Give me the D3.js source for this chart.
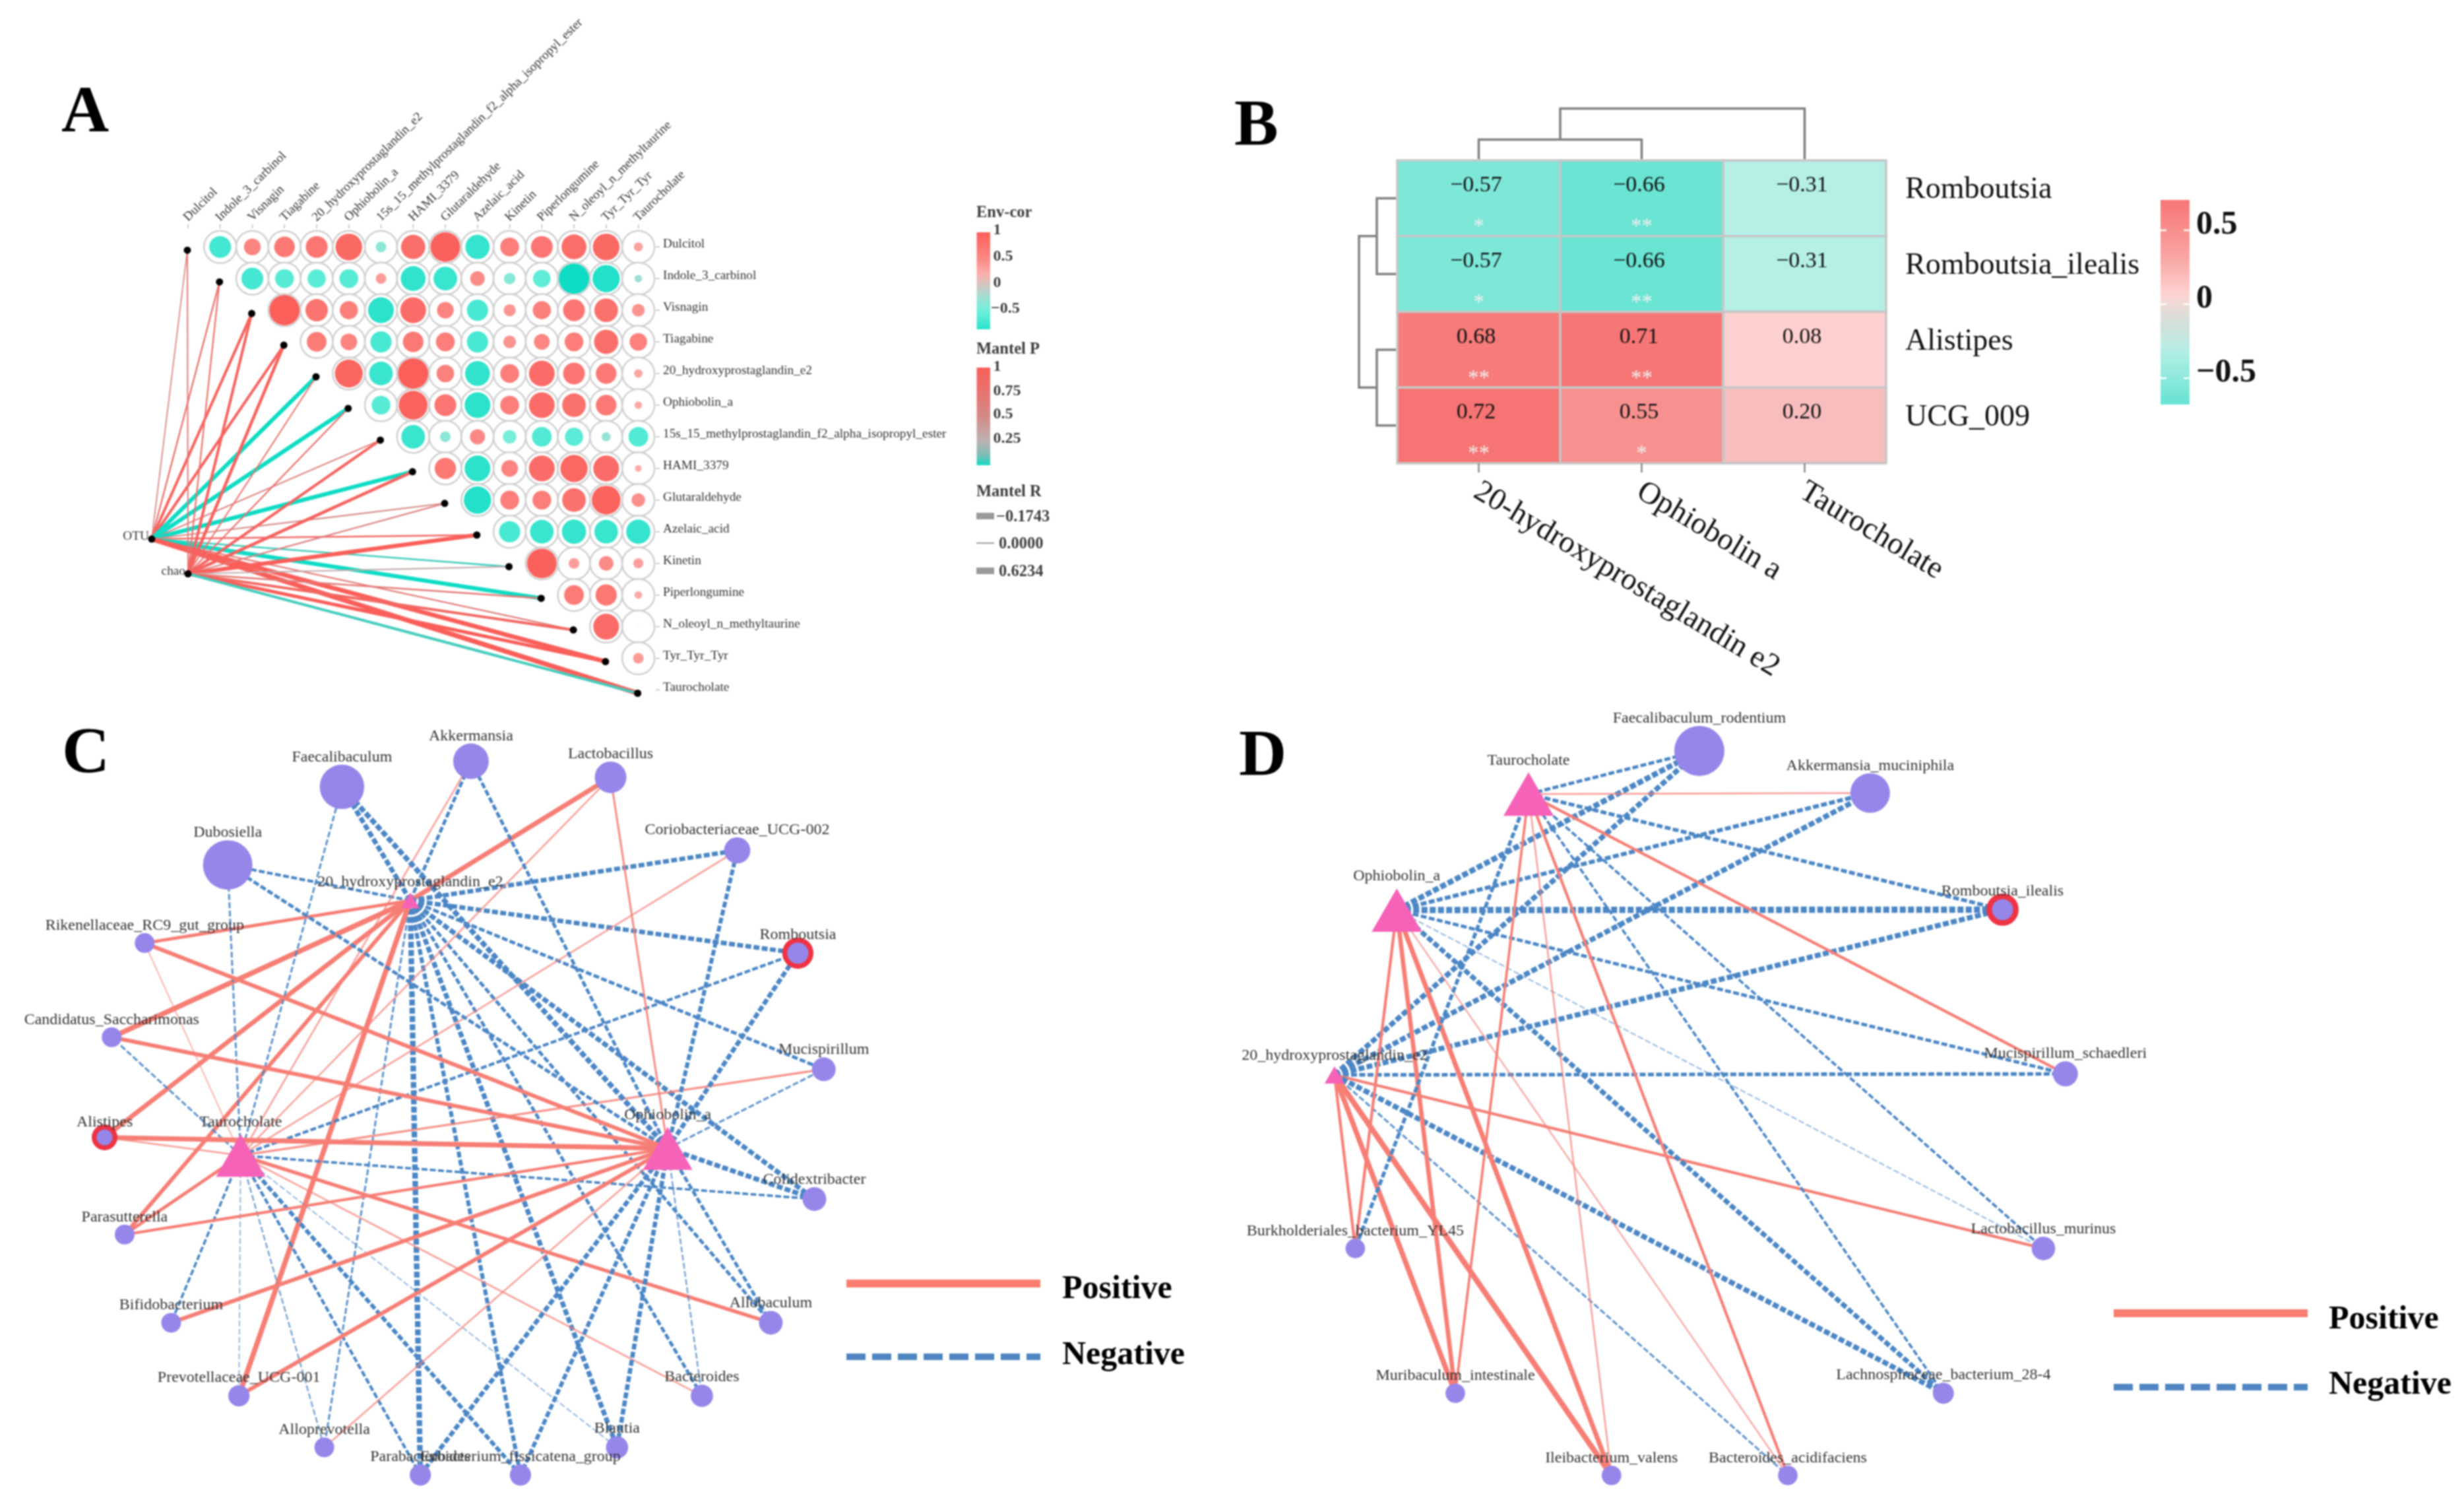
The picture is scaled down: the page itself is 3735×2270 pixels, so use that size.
<!DOCTYPE html>
<html><head><meta charset="utf-8">
<script src="https://cdn.jsdelivr.net/npm/d3@7"></script>
<style>html,body{margin:0;padding:0;background:#fff}svg{display:block;filter:blur(0.8px)}text{font-family:"Liberation Serif",serif}</style>
</head><body><svg id="c" width="3735" height="2270"></svg>
<script>
// ---------- Panel A data ----------
const metabolites=["Dulcitol","Indole_3_carbinol","Visnagin","Tiagabine","20_hydroxyprostaglandin_e2","Ophiobolin_a","15s_15_methylprostaglandin_f2_alpha_isopropyl_ester","HAMI_3379","Glutaraldehyde","Azelaic_acid","Kinetin","Piperlongumine","N_oleoyl_n_methyltaurine","Tyr_Tyr_Tyr","Taurocholate"];
const envCor=[
[-0.72,0.55,0.68,0.72,0.88,-0.35,0.8,0.98,-0.8,0.62,0.72,0.82,0.88,0.3],
[-0.72,-0.62,-0.6,-0.62,0.35,-0.82,-0.78,0.48,-0.38,-0.58,-1,-0.9,-0.25],
[1,0.74,0.6,-0.85,0.85,0.55,-0.7,0.4,0.6,0.72,0.78,0.42],
[0.65,0.55,-0.7,0.68,0.62,-0.7,0.42,0.52,0.62,0.8,0.58],
[0.92,-0.78,1,0.58,-0.82,0.62,0.85,0.72,0.68,0.28],
[-0.62,0.95,0.72,-0.85,0.62,0.85,0.78,0.68,0.25],
[-0.78,-0.35,0.5,-0.45,-0.65,-0.6,-0.3,-0.65],
[0.7,-0.85,0.55,0.85,0.9,0.85,0.22],
[-0.9,0.62,0.62,0.78,0.95,0.45],
[-0.7,-0.78,-0.8,-0.78,-0.8],
[0.98,0.35,0.48,0.33],
[0.65,0.7,0.25],
[0.85,0.03],
[0.35]];
const mantelHubs=["OTU","chao"];
const mantelHubCol=[-1.13,0], mantelHubRow=[9.23,10.33];
const mantelR=[
[0.08,0.14,0.3,0.3,0.5,0.5,0.1,0.5,0.1,0.15,0.15,0.5,0.12,0.55,0.6],
[0.1,0.12,0.3,0.35,0.1,0.12,0.3,0.35,0.12,0.5,0.1,0.15,0.3,0.4,0.3]];
const mantelP=[
[0.55,0.75,0.95,0.95,0,0,0.6,0,0.5,0.9,0.05,0,0.7,1,1],
[0.7,0.8,0.95,0.95,0.8,0.8,0.95,0.95,0.6,1,0.3,0.7,0.9,1,0.05]];
const envTicks=[1,0.5,0,-0.5], pTicks=[1,0.75,0.5,0.25];
const rLegend=["\u22120.1743","0.0000","0.6234"], rLegendVal=[-0.1743,0,0.6234];
// ---------- Panel B data ----------
const heatRows=["Romboutsia","Romboutsia_ilealis","Alistipes","UCG_009"];
const heatCols=["20-hydroxyprostaglandin e2","Ophiobolin a","Taurocholate"];
const heatVals=[[-0.57,-0.66,-0.31],[-0.57,-0.66,-0.31],[0.68,0.71,0.08],[0.72,0.55,0.20]];
const heatStars=[["*","**",""],["*","**",""],["**","**",""],["**","*",""]];
const heatTicks=[0.5,0,-0.5];
// ---------- Panel C data ----------
const cNodes=["Dubosiella","Faecalibaculum","Akkermansia","Lactobacillus","Coriobacteriaceae_UCG-002","Romboutsia","Mucispirillum","Colidextribacter","Allobaculum","Bacteroides","Blautia","Eubacterium_fissicatena_group","Parabacteroides","Alloprevotella","Prevotellaceae_UCG-001","Bifidobacterium","Parasutterella","Alistipes","Candidatus_Saccharimonas","Rikenellaceae_RC9_gut_group"];
const cLayoutX=[353,547,766,1003,1218,1321,1365,1349,1275,1158,1014,850,680,517,372,257,178,144,156,212];
const cLayoutY=[304,148,97,129,275,480,712,971,1218,1364,1467,1522,1522,1467,1364,1218,1042,848,648,460];
const cAbundance=[1,0.9,0.72,0.64,0.53,0.43,0.48,0.48,0.48,0.45,0.45,0.43,0.43,0.4,0.43,0.4,0.4,0.32,0.4,0.4];
const cMarked=["Romboutsia","Alistipes"];
const cHubs=["20_hydroxyprostaglandin_e2","Taurocholate","Ophiobolin_a"];
const cHubX=[663,375,1100], cHubY=[375,884,870], cHubSize=[0.37,1,1];
const cCorr=[
[-0.45,-0.7,-0.5,0.7,-0.65,-0.66,-0.5,-0.7,-0.5,-0.5,-0.7,-0.6,-0.8,-0.35,0.75,0,0.6,0.68,0.75,0.5],
[-0.35,-0.35,0.3,0.3,0.3,-0.45,0.35,-0.4,0.55,0.3,-0.25,-0.6,-0.45,-0.3,-0.25,-0.4,0.5,0.3,-0.35,0.25],
[-0.5,-0.75,-0.5,0.35,-0.6,-0.66,-0.35,-0.7,-0.5,-0.3,-0.65,-0.6,-0.65,0.3,0.6,0.6,0.45,0.71,0.6,0.6]];
// ---------- Panel D data ----------
const dNodes=["Faecalibaculum_rodentium","Akkermansia_muciniphila","Romboutsia_ilealis","Mucispirillum_schaedleri","Lactobacillus_murinus","Lachnospiraceae_bacterium_28-4","Bacteroides_acidifaciens","Ileibacterium_valens","Muribaculum_intestinale","Burkholderiales_bacterium_YL45"];
const dLayoutX=[785,1065,1282,1385,1349,1185,930,641,385,221];
const dLayoutY=[113,195,422,742,1082,1364,1524,1524,1364,1082];
const dAbundance=[1,0.79,0.42,0.5,0.47,0.42,0.39,0.39,0.39,0.39];
const dMarked=["Romboutsia_ilealis"];
const dHubs=["20_hydroxyprostaglandin_e2","Ophiobolin_a","Taurocholate"];
const dHubX=[187,289,505], dHubY=[744,423,197], dHubSize=[0.4,1,1];
const dCorr=[
[-0.75,-0.75,-0.75,-0.55,0.45,-0.75,-0.35,0.8,0.75,0.45],
[-0.8,-0.6,-0.9,-0.5,-0.25,-0.7,0.28,0.7,0.65,0.45],
[-0.5,0.3,-0.55,0.45,-0.4,-0.4,0.45,0.3,0.4,-0.55]];
const legendKeys=["Positive","Negative"];

const svg=d3.select("#c");
const POS="#f67e75",NEG="#4b86c5",PURPLE="#9686ea",PINK="#f562b8",RING="#ee3344";
const panelLetters=[["A",93,199],["B",1871,219],["C",94,1170],["D",1878,1174]];
svg.selectAll("text.letter").data(panelLetters).join("text").attr("class","letter")
 .attr("x",d=>d[1]).attr("y",d=>d[2]).attr("font-size",100).attr("font-weight","bold").text(d=>d[0]);

// ---------- Panel A ----------
const A=svg.append("g");
const xA=d3.scaleLinear().domain([0,14]).range([285,967.6]);
const yA=d3.scaleLinear().domain([0,14]).range([374.2,1045.5]);
const corColor=d3.scaleLinear().domain([-1,-0.5,-0.2,0.2,0.5,1]).range(["#0fdcc4","#6ef0dc","#a9dcd2","#fcb0ae","#fb8884","#fb5f5a"]);
const pColor=d3.scaleLinear().domain([0,0.1,0.25,0.5,1]).range(["#0fdcc4","#7bbdb5","#bdb2b2","#d48a88","#fa5f5a"]);
const rWidth=d3.scaleLinear().domain([0,0.62]).range([1,7.5]);
mantelHubs.forEach((h,hi)=>{
 A.append("g").selectAll("line").data(metabolites).join("line")
  .attr("x1",xA(mantelHubCol[hi])).attr("y1",yA(mantelHubRow[hi]))
  .attr("x2",(d,i)=>xA(i)-1).attr("y2",(d,i)=>yA(i)+5)
  .attr("stroke",(d,i)=>pColor(mantelP[hi][i])).attr("stroke-width",(d,i)=>rWidth(mantelR[hi][i]));
});
const cells=[];envCor.forEach((row,ri)=>row.forEach((v,k)=>cells.push({r:ri,c:ri+1+k,v})));
A.append("g").selectAll("circle").data(cells).join("circle").attr("cx",d=>xA(d.c)).attr("cy",d=>yA(d.r)).attr("r",24.5)
 .attr("fill","#fff").attr("stroke","#cfcfcf").attr("stroke-width",2.5);
const rCor=d3.scaleLinear().domain([0,1]).range([0,23]);
A.append("g").selectAll("circle").data(cells).join("circle").attr("cx",d=>xA(d.c)).attr("cy",d=>yA(d.r)).attr("r",d=>rCor(Math.abs(d.v)))
 .attr("fill",d=>corColor(d.v));
A.append("g").selectAll("circle").data(metabolites).join("circle").attr("cx",(d,i)=>xA(i)-1).attr("cy",(d,i)=>yA(i)+5).attr("r",5.5).attr("fill","#000");
A.append("g").selectAll("circle").data(mantelHubs).join("circle").attr("cx",(d,i)=>xA(mantelHubCol[i])).attr("cy",(d,i)=>yA(mantelHubRow[i])).attr("r",5.5).attr("fill","#000");
A.append("g").selectAll("text").data(mantelHubs).join("text").attr("text-anchor","end")
 .attr("x",(d,i)=>xA(mantelHubCol[i])-4).attr("y",(d,i)=>yA(mantelHubRow[i])+1).attr("font-size",19.3).attr("fill","#333").text(d=>d);
A.append("g").selectAll("text").data(metabolites).join("text").attr("font-size",19.3).attr("fill","#333")
 .attr("transform",(d,i)=>`translate(${xA(i)},336) rotate(-44.5)`).text(d=>d);
A.append("g").selectAll("line").data(metabolites).join("line").attr("x1",(d,i)=>xA(i)).attr("x2",(d,i)=>xA(i)).attr("y1",340).attr("y2",346).attr("stroke","#bbb").attr("stroke-width",1.5);
A.append("g").selectAll("text").data(metabolites).join("text").attr("font-size",19.3).attr("fill","#333")
 .attr("x",1005).attr("y",(d,i)=>yA(i)+1).text(d=>d);
A.append("g").selectAll("line").data(metabolites).join("line").attr("x1",994).attr("x2",1000).attr("y1",(d,i)=>yA(i)).attr("y2",(d,i)=>yA(i)).attr("stroke","#bbb").attr("stroke-width",1.5);

// gradient helper
const defs=svg.append("defs");
function grad(id,scale,dMin,dMax){
 const g=defs.append("linearGradient").attr("id",id).attr("x1",0).attr("x2",0).attr("y1",0).attr("y2",1);
 g.selectAll("stop").data(d3.range(0,1.001,0.05)).join("stop").attr("offset",d=>d).attr("stop-color",d=>scale(dMax+(dMin-dMax)*d));
}
const L=svg.append("g").attr("fill","#3d3d3d");
grad("gEnv",corColor,-0.85,1);
grad("gP",pColor,0,1);
L.append("text").attr("x",1480).attr("y",329).attr("font-size",24.5).attr("font-weight","bold").text("Env-cor");
L.append("rect").attr("x",1480.5).attr("y",352).attr("width",20.5).attr("height",147).attr("fill","url(#gEnv)");
const yEnvL=[355,395,435,474];
L.append("g").selectAll("text").data(envTicks).join("text").attr("x",(d,i)=>i==3?1502:1505.5).attr("y",(d,i)=>yEnvL[i]).attr("font-size",24).attr("font-weight","bold").text(d=>String(d).replace("-","\u2212"));
L.append("text").attr("x",1480).attr("y",536).attr("font-size",24.5).attr("font-weight","bold").text("Mantel P");
L.append("rect").attr("x",1480.5).attr("y",557).attr("width",20.5).attr("height",148).attr("fill","url(#gP)");
const yPL=[562,599,634,671];
L.append("g").selectAll("text").data(pTicks).join("text").attr("x",1505.5).attr("y",(d,i)=>yPL[i]).attr("font-size",24).attr("font-weight","bold").text(d=>d);
L.append("text").attr("x",1480).attr("y",752).attr("font-size",24.5).attr("font-weight","bold").text("Mantel R");
const yRL=[782,823,865];
L.append("g").selectAll("line").data(rLegendVal).join("line").attr("x1",1480).attr("x2",1507).attr("y1",(d,i)=>yRL[i]).attr("y2",(d,i)=>yRL[i]).attr("stroke","#9a9a9a").attr("stroke-width",d=>d==0?2:10);
L.append("g").selectAll("text").data(rLegend).join("text").attr("x",(d,i)=>i==0?1510:1514).attr("y",(d,i)=>yRL[i]+8).attr("font-size",24.5).attr("font-weight","bold").text(d=>d);

// ---------- Panel B ----------
const B=svg.append("g");
const xB=d3.scaleBand().domain(heatCols).range([2118,2859]);
const yB=d3.scaleBand().domain(heatRows).range([243,702]);
const heatColor=d3.scaleLinear().domain([-0.68,-0.31,-0.08,0,0.08,0.2,0.55,0.72]).range(["#66e3d2","#b5efe6","#dcdcd6","#f6dcd8","#fed0cf","#f8bdbd","#f79190","#f67473"]);
const hc=[];heatRows.forEach((r,i)=>heatCols.forEach((c,j)=>hc.push({r,c,v:heatVals[i][j],s:heatStars[i][j]})));
B.append("g").selectAll("rect").data(hc).join("rect").attr("x",d=>xB(d.c)).attr("y",d=>yB(d.r)).attr("width",xB.bandwidth()).attr("height",yB.bandwidth())
 .attr("fill",d=>heatColor(d.v)).attr("stroke","#c6c6c6").attr("stroke-width",3.5);
const fmt=v=>(v<0?"\u2212":"")+Math.abs(v).toFixed(2);
B.append("g").selectAll("text").data(hc).join("text").attr("text-anchor","middle").attr("font-size",34).attr("fill","#111")
 .attr("x",d=>xB(d.c)+xB.bandwidth()/2-4).attr("y",d=>yB(d.r)+47).text(d=>fmt(d.v));
B.append("g").selectAll("text").data(hc).join("text").attr("text-anchor","middle").attr("font-size",33).attr("fill","#eef0ee")
 .attr("x",d=>xB(d.c)+xB.bandwidth()/2).attr("y",d=>yB(d.r)+110).text(d=>d.s);
B.append("g").selectAll("text").data(heatRows).join("text").attr("x",2888).attr("y",d=>yB(d)+yB.bandwidth()/2).attr("font-size",46).attr("fill","#111").text(d=>d);
B.append("g").selectAll("line").data(heatCols).join("line").attr("x1",d=>xB(d)+xB.bandwidth()/2).attr("x2",d=>xB(d)+xB.bandwidth()/2).attr("y1",702).attr("y2",716).attr("stroke","#888").attr("stroke-width",2.5);
B.append("g").selectAll("text").data(heatCols).join("text").attr("font-size",47).attr("fill","#111")
 .attr("transform",d=>`translate(${xB(d)+xB.bandwidth()/2-10},752) rotate(31)`).text(d=>d);
// dendrograms
const cx=i=>xB(heatCols[i])+xB.bandwidth()/2, cy=i=>yB(heatRows[i])+yB.bandwidth()/2;
const dendroPath=[
 `M${cx(0)},241V211.5H${cx(1)}V241`,
 `M${(cx(0)+cx(1))/2},211.5V164.5H${cx(2)}V241`,
 `M2116,${cy(0)}H2087V${cy(1)}H2116`,
 `M2116,${cy(2)}H2087V${cy(3)}H2116`,
 `M2087,${(cy(0)+cy(1))/2}H2060V${(cy(2)+cy(3))/2}H2087`];
B.append("g").selectAll("path").data(dendroPath).join("path").attr("d",d=>d).attr("fill","none").attr("stroke","#808080").attr("stroke-width",3.5);
// colour bar
const yCb=d3.scaleLinear().domain([0.5,0,-0.5]).range([349,461,573]);
const heatBar=d3.scaleLinear().domain([-0.68,-0.31,-0.08,0,0.08,0.3,0.72]).range(["#66e3d2","#b5efe6","#dcdcd6","#f0dcd8","#fed0cf","#f8a8a6","#f67473"]);
grad("gH",heatBar,yCb.invert(613),yCb.invert(303));
B.append("rect").attr("x",3275).attr("y",303).attr("width",44).attr("height",310).attr("fill","url(#gH)");
B.append("g").selectAll("path").data(heatTicks).join("path").attr("d",d=>`M3275,${yCb(d)}h9M3310,${yCb(d)}h9`).attr("stroke","#fff").attr("stroke-width",2.5);
B.append("g").selectAll("text").data(heatTicks).join("text").attr("x",3329).attr("y",d=>yCb(d)+5).attr("font-size",50).attr("font-weight","bold").attr("fill","#111").text(d=>String(d).replace("-","\u2212"));

// ---------- Networks ----------
function network(box,nodes,lx,ly,ab,marked,hubs,hx,hy,hs,corr,rMax,triSide,ringW){
 const X=d3.scaleLinear().domain([0,1568]).range([box[0],box[1]]);
 const Y=d3.scaleLinear().domain([0,1568]).range([box[2],box[3]]);
 const R=d3.scaleLinear().domain([0,1]).range([0,rMax]);
 const W=d3.scaleLinear().domain([0.25,0.9]).range([2,9.5]);
 const Op=d3.scaleLinear().domain([0.25,0.4]).range([0.6,1]).clamp(true);
 const edges=[];hubs.forEach((h,hi)=>nodes.forEach((n,ni)=>{const v=corr[hi][ni];if(v)edges.push({hi,ni,v})}));
 const g=svg.append("g");
 g.append("g").selectAll("line").data(edges).join("line")
  .attr("x1",d=>X(hx[d.hi])).attr("y1",d=>Y(hy[d.hi])).attr("x2",d=>X(lx[d.ni])).attr("y2",d=>Y(ly[d.ni]))
  .attr("stroke",d=>d.v>0?POS:NEG).attr("stroke-opacity",d=>Op(Math.abs(d.v))).attr("stroke-width",d=>W(Math.abs(d.v)))
  .attr("stroke-dasharray",d=>d.v>0?null:"9 3.5");
 g.append("g").selectAll("circle").data(nodes).join("circle").attr("cx",(d,i)=>X(lx[i])).attr("cy",(d,i)=>Y(ly[i])).attr("r",(d,i)=>R(ab[i])).attr("fill",PURPLE);
 g.append("g").selectAll("circle").data(marked).join("circle").attr("cx",d=>X(lx[nodes.indexOf(d)])).attr("cy",d=>Y(ly[nodes.indexOf(d)]))
  .attr("r",d=>R(ab[nodes.indexOf(d)])+ringW/2).attr("fill",PURPLE).attr("stroke",RING).attr("stroke-width",ringW);
 const tri=d3.symbol().type(d3.symbolTriangle);
 g.append("g").selectAll("path").data(hubs).join("path").attr("d",(d,i)=>{const s=hs[i]*triSide;return tri.size(Math.sqrt(3)/4*s*s)()})
  .attr("transform",(d,i)=>`translate(${X(hx[i])},${Y(hy[i])+hs[i]*triSide*0.866/6})`).attr("fill",PINK);
 g.append("g").selectAll("text").data(nodes).join("text").attr("text-anchor","middle").attr("font-size",24).attr("fill","#333")
  .attr("x",(d,i)=>X(lx[i])).attr("y",(d,i)=>Y(ly[i])-R(ab[i])-13+8).text(d=>d);
 g.append("g").selectAll("text").data(hubs).join("text").attr("text-anchor","middle").attr("font-size",24).attr("fill","#333")
  .attr("x",(d,i)=>X(hx[i])).attr("y",(d,i)=>Y(hy[i])-(17+0.47*hs[i]*triSide)+8).text(d=>d);
}
network([30,1430,1080,2270],cNodes,cLayoutX,cLayoutY,cAbundance,cMarked,cHubs,cHubX,cHubY,cHubSize,cCorr,37.5,75,7.5);
network([1850,3300,1050,2270],dNodes,dLayoutX,dLayoutY,dAbundance,dMarked,dHubs,dHubX,dHubY,dHubSize,dCorr,38,76,8.5);

// ---------- network legends ----------
function keyLegend(x1,x2,y,by,tx){
 const g=svg.append("g");
 g.selectAll("line").data(legendKeys).join("line").attr("x1",x1).attr("x2",x2).attr("y1",(d,i)=>y[i]).attr("y2",(d,i)=>y[i])
  .attr("stroke",(d,i)=>i?"#4f86c2":"#f87d70").attr("stroke-width",(d,i)=>i?10:12).attr("stroke-dasharray",(d,i)=>i?"29 10":null);
 g.selectAll("text").data(legendKeys).join("text").attr("x",tx).attr("y",(d,i)=>by[i]).attr("font-size",50).attr("font-weight","bold").attr("fill","#000").text(d=>d);
}
keyLegend(1283,1577,[1945,2056],[1967,2067],1610);
keyLegend(3204,3498,[1990,2102],[2013,2112],3530);
</script></body></html>
